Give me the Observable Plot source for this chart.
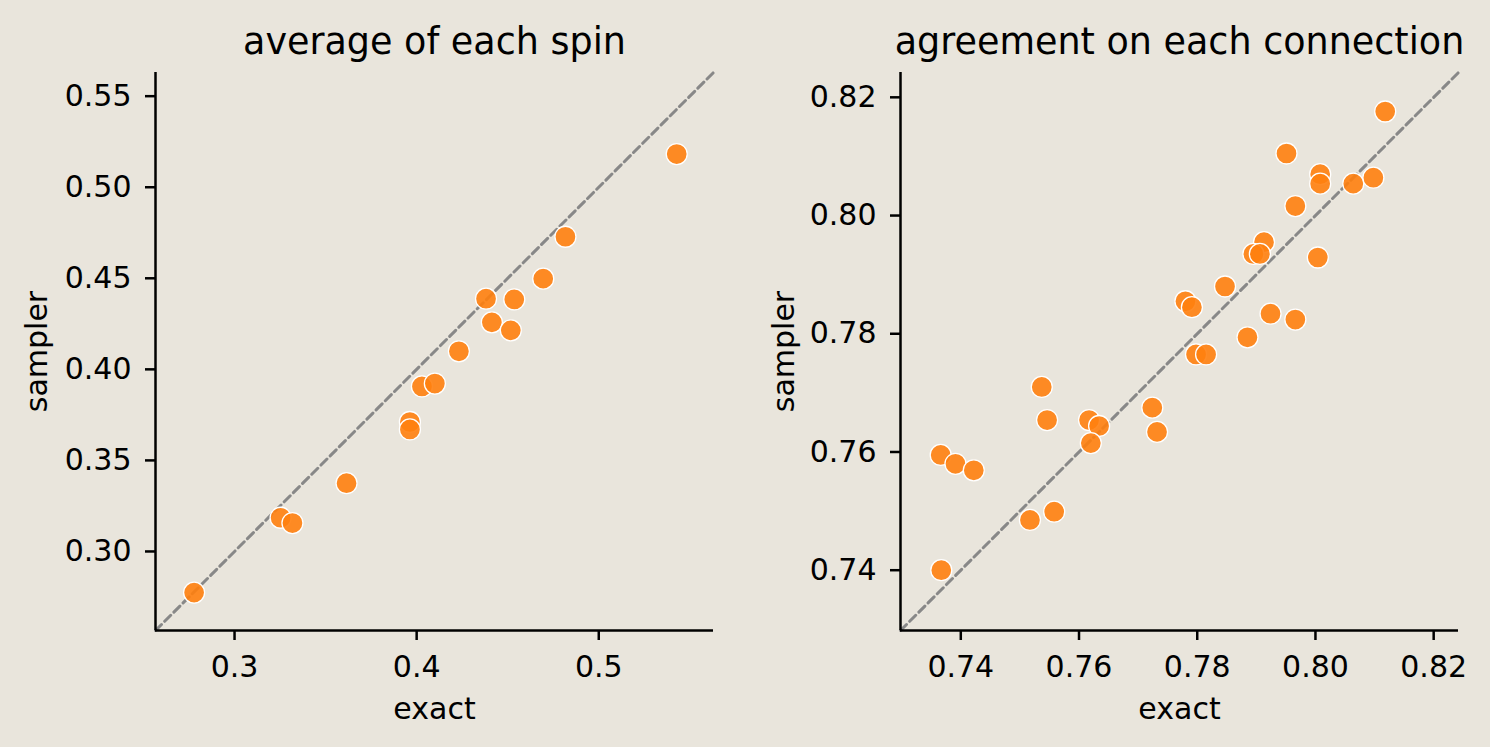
<!DOCTYPE html>
<html>
<head>
<meta charset="utf-8">
<script src="https://cdn.jsdelivr.net/npm/d3@7"></script>
<script src="https://cdn.jsdelivr.net/npm/@observablehq/plot@0.6"></script>
<style>
  html, body { margin: 0; padding: 0; background: #e9e5dc; }
  #wrap { position: relative; width: 1490px; height: 747px; background: #e9e5dc; overflow: hidden; }
  .panel { position: absolute; top: 0; }
</style>
</head>
<body>
<div id="wrap"></div>
<script>
// ---- data: left panel (average of each spin)
const spinExact   = [0.5428,0.4817,0.4695,0.4381,0.4536,0.4413,0.4517,0.4232,0.4029,0.4100,0.3963,0.3963,0.3615,0.3253,0.3318,0.2778];
const spinSampler = [0.5182,0.4728,0.4498,0.4388,0.4384,0.4258,0.4214,0.4099,0.3906,0.3922,0.3711,0.3670,0.3375,0.3185,0.3156,0.2774];
const spinLimits  = [0.2566, 0.5630];
const spinXTicks  = [0.3, 0.4, 0.5];
const spinYTicks  = [0.30, 0.35, 0.40, 0.45, 0.50, 0.55];

// ---- data: right panel (agreement on each connection)
const connExact   = [0.8118,0.7951,0.8008,0.8008,0.8064,0.8098,0.7966,0.7913,0.7895,0.7906,0.8004,0.7847,0.7780,0.7791,0.7924,0.7966,0.7885,0.7798,0.7815,0.7537,0.7546,0.7617,0.7634,0.7620,0.7724,0.7732,0.7366,0.7391,0.7422,0.7517,0.7558,0.7367];
const connSampler = [0.8176,0.8105,0.8070,0.8054,0.8054,0.8064,0.8016,0.7955,0.7935,0.7935,0.7929,0.7880,0.7855,0.7845,0.7834,0.7824,0.7794,0.7765,0.7765,0.7710,0.7654,0.7654,0.7644,0.7615,0.7675,0.7634,0.7595,0.7580,0.7569,0.7485,0.7499,0.7400];
const connLimits  = [0.7298, 0.8242];
const connXTicks  = [0.74, 0.76, 0.78, 0.80, 0.82];
const connYTicks  = [0.74, 0.76, 0.78, 0.80, 0.82];

const titles = ["average of each spin", "agreement on each connection"];
const xLabel = "exact";
const yLabel = "sampler";

const BG = "#e9e5dc";
const FONT = "'DejaVu Sans', sans-serif";

function panel({exact, sampler, limits, xTicks, yTicks, xFmt, yFmt, title, ylabDx}) {
  const pts = exact.map((e, i) => ({exact: e, sampler: sampler[i]}));
  const diag = limits.map(v => ({a: v, b: v}));
  return Plot.plot({
    width: 745,
    height: 747,
    marginLeft: 155,
    marginRight: 32,
    marginTop: 72,
    marginBottom: 117,
    style: {background: BG, fontFamily: FONT, fontSize: "30px", color: "black", overflow: "visible"},
    x: {domain: limits},
    y: {domain: limits},
    marks: [
      Plot.line(diag, {x: "a", y: "b", stroke: "#888888", strokeWidth: 3, strokeDasharray: "8.5,4.5"}),
      Plot.dot(pts, {x: "exact", y: "sampler", r: 10.5, fill: "#ff7f0e", fillOpacity: 0.9, stroke: "white", strokeWidth: 1.3}),
      Plot.ruleX([limits[0]], {stroke: "black", strokeWidth: 2.5}),
      Plot.ruleY([limits[0]], {stroke: "black", strokeWidth: 2.5}),
      Plot.axisX({ticks: xTicks, tickFormat: xFmt, tickSize: 10, tickPadding: 15, strokeWidth: 2.5, stroke: "black", fill: "black", label: null, fontSize: 30}),
      Plot.axisY({ticks: yTicks, tickFormat: yFmt, tickSize: 10, tickPadding: 14, strokeWidth: 2.5, stroke: "black", fill: "black", label: null, fontSize: 30}),
      Plot.text([title], {frameAnchor: "top", text: d => d, textAnchor: "middle", lineAnchor: "bottom", dy: -19, fontSize: 36.5, fill: "black"}),
      Plot.text([xLabel], {frameAnchor: "bottom", text: d => d, textAnchor: "middle", lineAnchor: "bottom", dy: 88, fontSize: 30, fill: "black"}),
      Plot.text([yLabel], {frameAnchor: "left", text: d => d, textAnchor: "middle", lineAnchor: "bottom", rotate: -90, dx: ylabDx, fontSize: 30, fill: "black"})
    ]
  });
}

const wrap = document.getElementById("wrap");
const left = panel({
  exact: spinExact, sampler: spinSampler, limits: spinLimits,
  xTicks: spinXTicks, yTicks: spinYTicks,
  xFmt: d3.format(".1f"), yFmt: d3.format(".2f"),
  title: titles[0], ylabDx: -109
});
left.classList.add("panel");
left.style.left = "0px";
wrap.appendChild(left);

const right = panel({
  exact: connExact, sampler: connSampler, limits: connLimits,
  xTicks: connXTicks, yTicks: connYTicks,
  xFmt: d3.format(".2f"), yFmt: d3.format(".2f"),
  title: titles[1], ylabDx: -107
});
right.classList.add("panel");
right.style.left = "745px";
wrap.appendChild(right);
</script>
</body>
</html>
